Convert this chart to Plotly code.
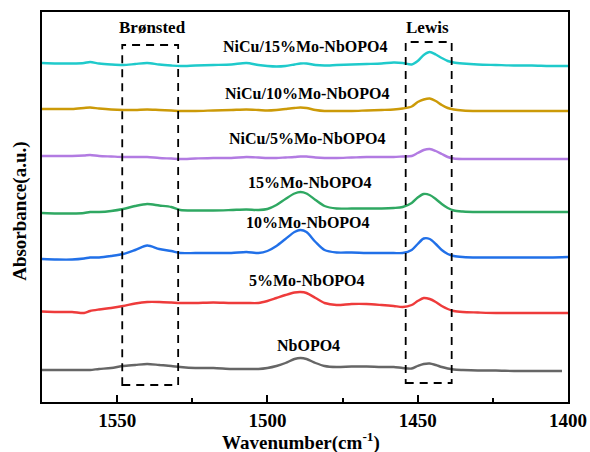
import plotly.graph_objects as go

wavenumber = [1575, 1570, 1565, 1561, 1559, 1556, 1552, 1548, 1544, 1540, 1536, 1532, 1529,
              1524, 1518, 1512, 1507, 1503, 1500, 1497, 1494, 1491, 1489, 1487, 1484, 1481,
              1477, 1472, 1467, 1462, 1458, 1455, 1452, 1450, 1448, 1446, 1444, 1442, 1440,
              1438, 1435, 1430, 1424, 1418, 1412, 1406, 1400]

wavenumber_nbopo4 = wavenumber[:-1] + [1402]

nbopo4 = [32, 32, 32, 32, 32, 33, 34, 36, 37, 38, 37, 36, 35, 34, 34, 33, 33, 33, 34, 36, 39,
          43, 44, 43, 39, 36, 35, 35.5, 35.5, 35, 35, 34, 33.5, 36, 38, 38.5, 37, 35, 33.5,
          32.5, 32, 31.5, 31.5, 31, 31, 31, 31]

mo5 = [90.5, 90, 90, 89, 91, 92.5, 94, 96, 98.5, 100, 100, 99.5, 99, 99, 99.5, 99, 99, 99,
       101, 104, 107, 109.5, 110, 109, 104, 99, 97, 98, 98, 97, 96, 95, 97, 101, 104, 103,
       100, 96, 93, 91, 90, 89.5, 89, 89, 89, 89, 89]

mo10 = [143, 142.5, 142.5, 143.5, 144.5, 144.5, 146, 148, 152, 156.5, 153, 151, 149, 149,
        149, 149, 150, 149, 151, 156, 163, 170, 172, 170, 160, 152, 149.5, 149.5, 149, 149,
        149, 149, 152, 158, 163.5, 163, 158, 152, 148, 146, 145, 144.5, 144.5, 144.5, 144.5,
        144.5, 145]

mo15 = [189, 188.5, 188.5, 189, 190, 190, 191, 193, 196, 198, 196.5, 195, 192, 191.5, 191.5,
        192, 192.5, 192, 193, 197, 203, 208.5, 210, 208.5, 202, 196, 193.5, 193.5, 193.5,
        193.5, 194, 195, 199, 204.5, 208, 207, 203, 198, 194, 191.5, 190.5, 190, 190, 190,
        190, 190, 190]

nicu_mo5 = [246, 246, 246, 246.5, 247, 246, 245.5, 245, 245, 245, 244, 243.5, 243, 243.5,
            244, 244, 245, 244.5, 244, 244, 244.5, 245, 245.5, 245.5, 244.5, 244, 244, 244.5,
            245, 245, 245, 245.5, 246, 249, 252, 253, 251, 248, 245, 243.5, 243, 243, 243,
            243, 243, 243, 243]

nicu_mo10 = [293, 293, 293, 294, 294.5, 293.5, 292.5, 292, 292, 292.5, 292, 291.5, 291, 291,
             291.5, 292, 292.5, 292, 291.5, 292, 293, 294, 294.5, 294, 292, 291, 291, 291,
             291.5, 292, 292.5, 293.5, 295.5, 300, 302.5, 303.5, 301, 297, 294, 292.5, 291.5,
             291, 291, 291, 291, 291, 291]

nicu_mo15 = [339, 338.5, 338.5, 339, 340, 338.5, 337.5, 337, 338, 339, 337.5, 336.5, 336,
             336.5, 337, 337.5, 339, 337, 336, 335.5, 336, 337.5, 338.5, 338.5, 337, 336.5,
             337, 337.5, 338, 338.5, 339.5, 339, 337.5, 341, 347, 350, 347.5, 344, 341, 339.5,
             338.5, 337.5, 337, 336.5, 336.5, 336, 336]

series_names = ["NbOPO4", "5%Mo-NbOPO4", "10%Mo-NbOPO4", "15%Mo-NbOPO4",
                "NiCu/5%Mo-NbOPO4", "NiCu/10%Mo-NbOPO4", "NiCu/15%Mo-NbOPO4"]
series_values = [nbopo4, mo5, mo10, mo15, nicu_mo5, nicu_mo10, nicu_mo15]
series_x = [wavenumber_nbopo4] + [wavenumber] * 6
colors = ["#666666", "#EE3B3B", "#2170E8", "#2FA862", "#B27BE2", "#CC9A08", "#1FCACB"]

# label anchor positions (wavenumber, absorbance)
label_x = [1486.5, 1486.7, 1486.4, 1486.0, 1487.0, 1487.0, 1487.4]
label_y = [57, 122, 180, 220, 264, 309, 356]

tick_vals = [1550, 1500, 1450, 1400]
tick_text = ["1550", "1500", "1450", "1400"]

bronsted_box = (1548.3, 1529.7, 17, 357)
lewis_box = (1454.0, 1438.7, 19, 360)

FONT = "Liberation Serif, Times New Roman, serif"
BOLD = dict(family=FONT, color="black", weight="bold")

fig = go.Figure()
for name, xs, ys, c in zip(series_names, series_x, series_values, colors):
    fig.add_trace(go.Scatter(x=xs, y=ys, mode="lines", name=name,
                             line=dict(color=c, width=2.4, shape="spline", smoothing=0.8),
                             showlegend=False))

for name, lx, ly in zip(series_names, label_x, label_y):
    fig.add_annotation(x=lx, y=ly, text=name, showarrow=False, font=dict(size=16, **BOLD))

for (bx0, bx1, by0, by1) in [bronsted_box, lewis_box]:
    fig.add_shape(type="rect", x0=bx0, x1=bx1, y0=by0, y1=by1,
                  line=dict(color="black", width=1.8, dash="8px,6px"))

fig.add_annotation(x=1538.4, y=375, text="Brønsted", showarrow=False, font=dict(size=17, **BOLD))
fig.add_annotation(x=1446.7, y=375, text="Lewis", showarrow=False, font=dict(size=17, **BOLD))

# axis titles
fig.add_annotation(xref="paper", yref="paper", x=0.493, y=-0.101, yanchor="middle",
                   text="Wavenumber(cm<sup>-1</sup>)", showarrow=False, font=dict(size=19, **BOLD))
fig.add_annotation(xref="paper", yref="paper", x=-0.042, y=0.49, xanchor="center",
                   textangle=-90, text="Absorbance(a.u.)", showarrow=False,
                   font=dict(size=19, **BOLD))

fig.update_layout(
    width=590, height=452,
    margin=dict(l=42, r=22, t=12, b=50),
    paper_bgcolor="white", plot_bgcolor="white",
    font=dict(family=FONT, color="black"),
)
fig.update_xaxes(
    range=[1575, 1400], tickvals=tick_vals, ticktext=tick_text, automargin=False,
    ticks="inside", ticklen=7, tickwidth=2, tickcolor="black",
    ticklabelstandoff=0,
    minor=dict(ticks="inside", ticklen=4, tickwidth=2, tickcolor="black", dtick=25, tick0=1400),
    showline=True, linewidth=2, linecolor="black", mirror=True,
    showgrid=False, zeroline=False,
    tickfont=dict(size=19, **BOLD),
)
fig.update_yaxes(
    range=[0, 390], showticklabels=False, ticks="", automargin=False,
    showline=True, linewidth=2, linecolor="black", mirror=True,
    showgrid=False, zeroline=False,
)

fig.write_html("out.html")
